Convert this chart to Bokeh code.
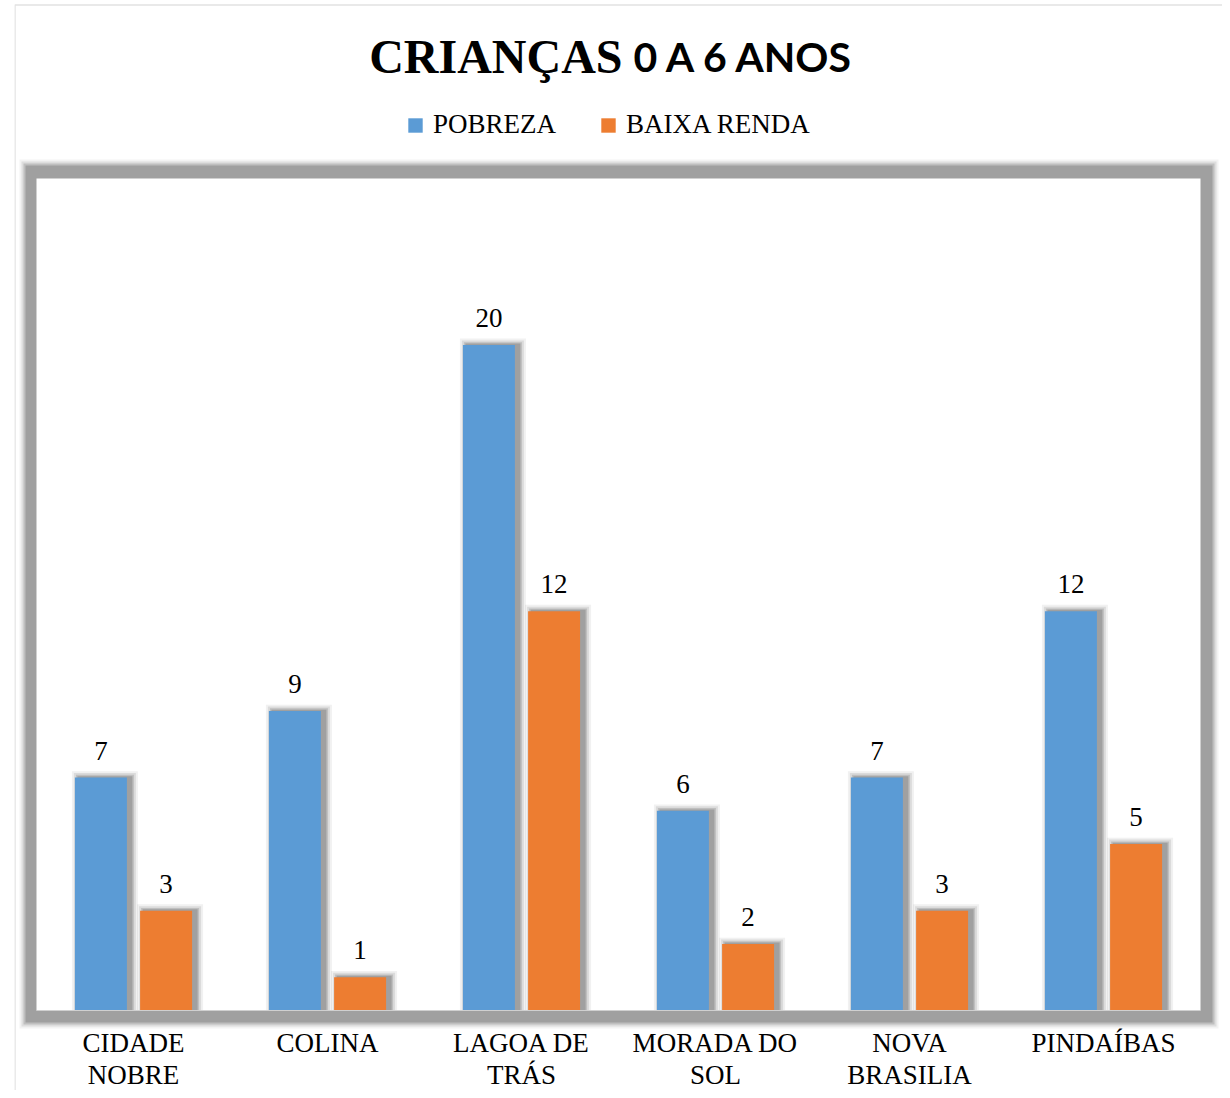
from bokeh.plotting import figure
from bokeh.models import (ColumnDataSource, FactorRange, Range1d, LabelSet, Label,
                          BoxAnnotation, Legend, LegendItem)
from bokeh.transform import dodge
from bokeh.embed import file_html
from bokeh.resources import INLINE

# ---- data ----
categories = ["CIDADE NOBRE", "COLINA", "LAGOA DE TRÁS", "MORADA DO SOL", "NOVA BRASILIA", "PINDAÍBAS"]
category_labels = ["CIDADE\nNOBRE", "COLINA", "LAGOA DE\nTRÁS", "MORADA DO\nSOL", "NOVA\nBRASILIA", "PINDAÍBAS"]
pobreza = [7, 9, 20, 6, 7, 12]
baixa_renda = [3, 1, 12, 2, 3, 5]
series_names = ["POBREZA", "BAIXA RENDA"]
title_parts = ["CRIANÇAS", "0 A 6 ANOS"]
colors = ["#5B9BD5", "#ED7D31"]

# ---- layout constants (canvas pixels) ----
W, H = 1222, 1090
ML = 14                      # left canvas border (frame starts here)
PL, PT, PR, PB = 36, 178, 1200, 1010   # inner plot area
NC = len(categories)
YMAX = 25
PX = NC / (PR - PL)          # one pixel in x data units
PY = YMAX / (PB - PT)        # one pixel in y data units
BW = 0.268
OFF = 0.168

def xd(px):   # canvas x -> data x
    return (px - PL) * PX

def yd(py):   # canvas y -> data y
    return (PB - py) * PY

src = ColumnDataSource(dict(
    cat=categories,
    label=category_labels,
    pob=pobreza,
    baixa=baixa_renda,
    pob_txt=[str(v) for v in pobreza],
    baixa_txt=[str(v) for v in baixa_renda],
))

xr = FactorRange(factors=categories, range_padding=(PL - ML) * PX,
                 range_padding_units="absolute")
p = figure(width=W, height=H, x_range=xr, y_range=Range1d(yd(H), yd(0)),
           output_backend="svg", toolbar_location=None,
           x_axis_location=None, y_axis_location=None,
           min_border_left=ML, min_border_right=0, min_border_top=0, min_border_bottom=0)

p.background_fill_color = "white"
p.border_fill_color = "white"
p.outline_line_color = None
p.grid.visible = False

# outer chart border (top and left visible)
p.add_layout(BoxAnnotation(left=xd(ML + 0.5), right=xd(W + 50), bottom=yd(H + 50), top=yd(4.5),
                           fill_alpha=0, line_color="#a0a0a0", line_width=1.5, level="underlay"))

# frame shadow: grey band with soft outer edge
for g, a in [(18, 0.12), (16, 0.25), (14, 0.5), (12, 1.0)]:
    p.add_layout(BoxAnnotation(left=xd(PL - g + 1), right=xd(PR + g), bottom=yd(PB + g),
                               top=yd(PT - g - 1), fill_color="#a0a0a0", fill_alpha=a,
                               line_color=None, level="underlay"))
p.add_layout(BoxAnnotation(left=0, right=NC, bottom=0, top=YMAX, fill_color="white",
                           fill_alpha=1, line_color=None, level="underlay"))

# bar shadows
for fld, off in [("pob", -OFF), ("baixa", OFF)]:
    for grow, a in [(14, 0.08), (10, 0.13), (6, 0.2), (3, 0.28)]:
        p.vbar(x=dodge("cat", off + 4 * PX, range=p.x_range), top=dodge(fld, grow * 0.45 * PY),
               bottom=0, width=BW + grow * PX, source=src, fill_color="#505050",
               fill_alpha=a, line_color=None)

r1 = p.vbar(x=dodge("cat", -OFF, range=p.x_range), top="pob", width=BW, source=src,
            fill_color=colors[0], line_color=None)
r2 = p.vbar(x=dodge("cat", OFF, range=p.x_range), top="baixa", width=BW, source=src,
            fill_color=colors[1], line_color=None)

# baseline
p.segment(x0=0, x1=NC, y0=0, y1=0, line_color="#d0d0d0", line_width=1)

# data labels
for fld, off in [("pob", -OFF), ("baixa", OFF)]:
    p.add_layout(LabelSet(x=dodge("cat", off, range=p.x_range), y=fld, text=fld + "_txt",
                          source=src, text_align="center", text_baseline="alphabetic",
                          y_offset=18, text_font="Liberation Serif", text_font_size="27px",
                          text_color="black"))

# category labels (multi-line)
p.text(x="cat", y=yd(PB + 17), text="label", source=src, text_align="center",
       text_baseline="top", text_font="Liberation Serif", text_font_size="27px",
       text_color="black", text_line_height=1.08)

# title (two fonts)
ty = yd(56)
p.add_layout(Label(x=xd(622), y=ty, text=title_parts[0], text_font="Liberation Serif",
                   text_font_style="bold", text_font_size="48px", text_align="right",
                   text_baseline="alphabetic", text_color="black"))
p.add_layout(Label(x=xd(633), y=ty, text=title_parts[1], text_font="Lato",
                   text_font_style="bold", text_font_size="41px", text_align="left",
                   text_baseline="alphabetic", text_color="black"))

legend = Legend(items=[LegendItem(label=series_names[0], renderers=[r1]),
                       LegendItem(label=series_names[1], renderers=[r2])],
                orientation="horizontal", location=(406 - ML, H - 140),
                glyph_width=18, glyph_height=18, label_standoff=9, spacing=43,
                label_text_font="Liberation Serif", label_text_font_size="27px",
                label_text_color="black", padding=0, margin=0,
                border_line_color=None, background_fill_alpha=0)
p.add_layout(legend)

open("out.html", "w").write(file_html(p, INLINE))
